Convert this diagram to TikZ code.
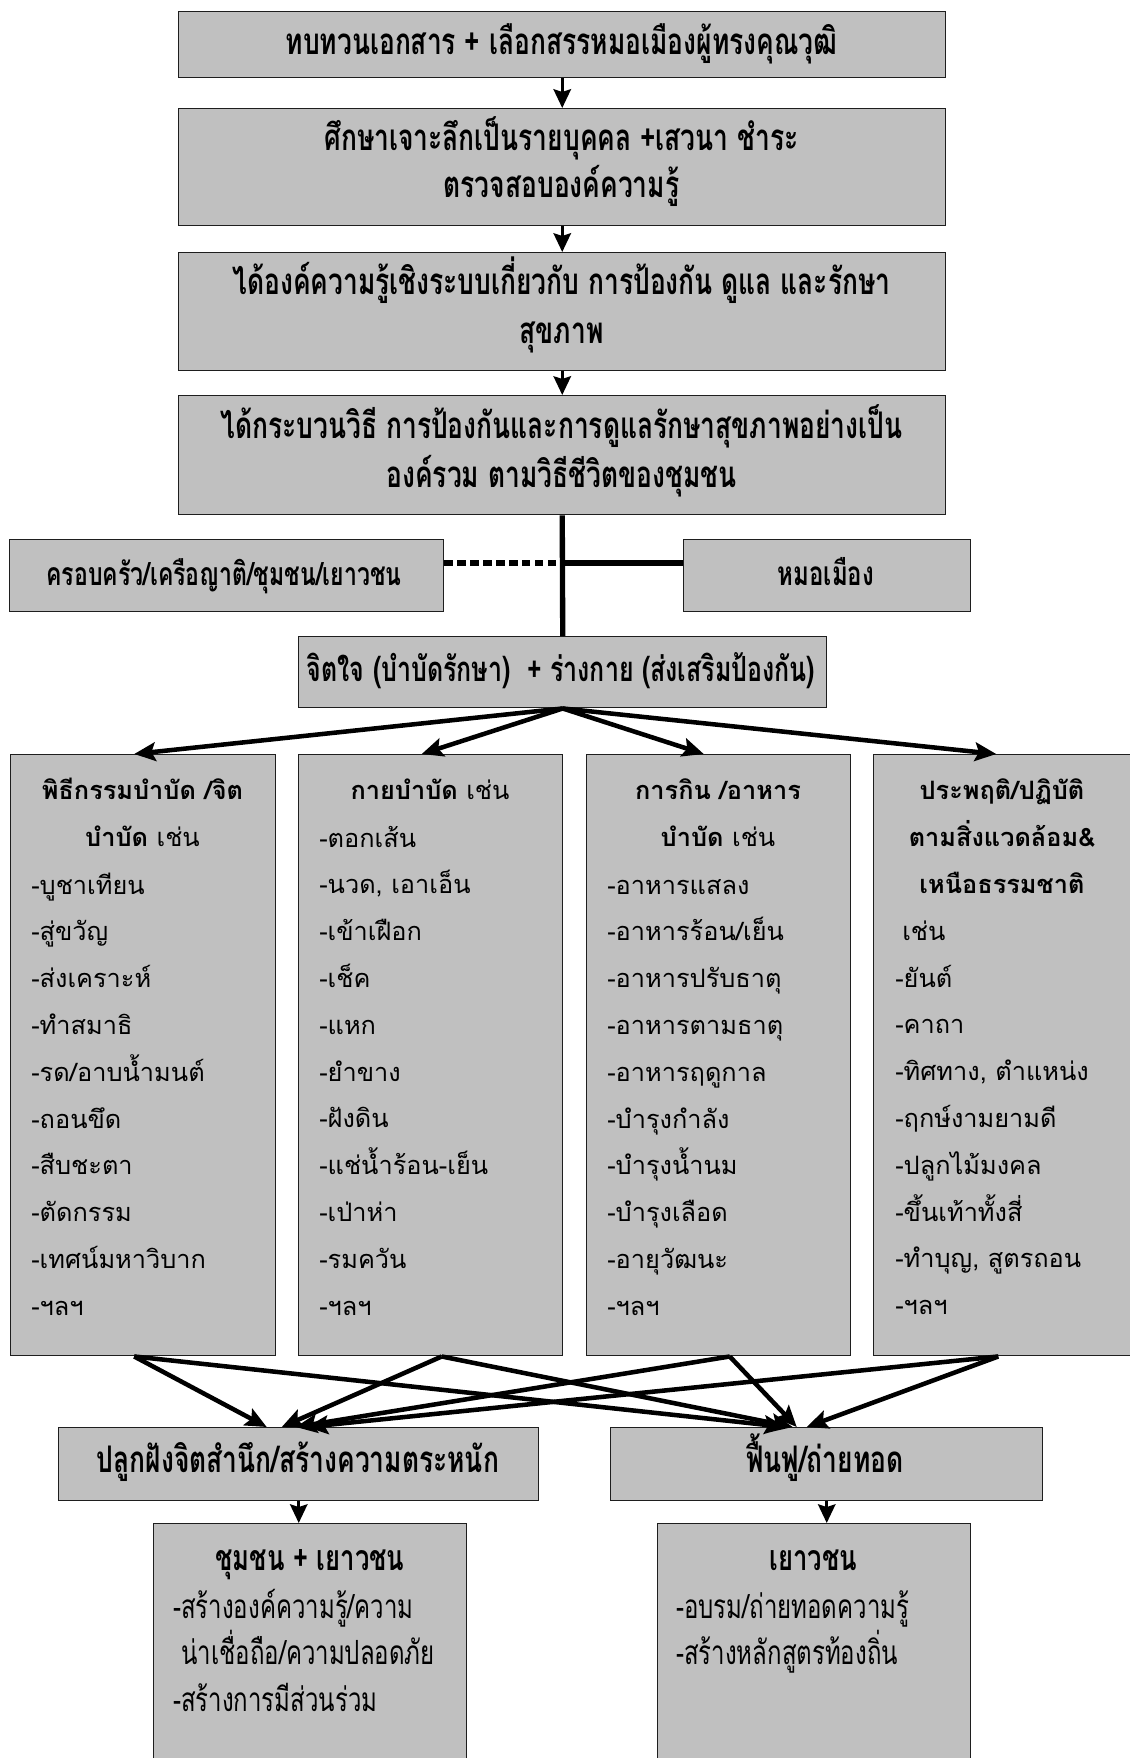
\documentclass[tikz,border=0pt]{standalone}
\usepackage{fontspec}
\usetikzlibrary{arrows.meta,calc}
\newfontfamily\thc[Script=Thai,FakeStretch=0.72]{Loma}
\newfontfamily\thr[Script=Thai]{Loma}
\definecolor{boxgray}{RGB}{192,192,192}
\definecolor{edgecol}{RGB}{30,30,30}
\newcommand\mkbox[5]{\node[box, minimum width=#4*0.75pt, minimum height=#5*0.75pt] (#1) at (#2,#3) {};}
\begin{document}
\begin{tikzpicture}[x=0.75pt,y=-0.75pt,
  box/.style={draw=edgecol, line width=1.1pt, fill=boxgray, inner sep=0pt, anchor=north west},
  ttxt/.style={font=\thc\bfseries\fontsize{27.5pt}{30pt}\selectfont, anchor=base, inner sep=0pt},
  stxt/.style={font=\thc\bfseries\fontsize{24pt}{28pt}\selectfont, anchor=base, inner sep=0pt},
  ctxtL/.style={font=\thc\fontsize{25pt}{28pt}\selectfont, anchor=base west, inner sep=0pt},
  head/.style={font=\thr\bfseries\fontsize{19pt}{23pt}\selectfont, anchor=base, inner sep=0pt},
  item/.style={font=\thr\fontsize{19pt}{23pt}\selectfont, anchor=base west, inner sep=0pt},
  arr/.style={line width=3.4pt, -{Stealth[length=16pt,width=14pt,inset=3pt]}},
  tarr/.style={line width=2.4pt, -{Stealth[length=14pt,width=13pt,inset=2pt]}},
  thickline/.style={line width=4pt},
]
\useasboundingbox (0,0) rectangle (1129,1758);
% boxes
\mkbox{b1}{178}{11}{767}{66}
\mkbox{b2}{178}{108}{767}{117}
\mkbox{b3}{178}{252}{767}{118}
\mkbox{b4}{178}{395}{767}{119}
\mkbox{L}{9}{539}{434}{72}
\mkbox{R}{683}{539}{287}{72}
\mkbox{b5}{298}{636}{528}{71}
\mkbox{c1}{10}{754}{265}{601}
\mkbox{c2}{298}{754}{264}{601}
\mkbox{c3}{586}{754}{264}{601}
\mkbox{c4}{873}{754}{267}{601}
\mkbox{p1}{58}{1427}{480}{73}
\mkbox{p2}{610}{1427}{432}{73}
\mkbox{q1}{153}{1523}{313}{247}
\mkbox{q2}{657}{1523}{313}{247}

% top texts
\node[ttxt] (t1) at (561.5,55) {ทบทวนเอกสาร + เลือกสรรหมอเมืองผู้ทรงคุณวุฒิ};
\node[ttxt] (t2a) at (561.5,151) {ศึกษาเจาะลึกเป็นรายบุคคล +เสวนา ชำระ};
\node[ttxt] (t2b) at (561.5,198) {ตรวจสอบองค์ความรู้};
\node[ttxt] (t3a) at (561.5,295) {ได้องค์ความรู้เชิงระบบเกี่ยวกับ การป้องกัน ดูแล และรักษา};
\node[ttxt] (t3b) at (561.5,344) {สุขภาพ};
\node[ttxt] (t4a) at (561.5,438) {ได้กระบวนวิธี การป้องกันและการดูแลรักษาสุขภาพอย่างเป็น};
\node[ttxt] (t4b) at (561.5,487) {องค์รวม ตามวิธีชีวิตของชุมชน};
\node[stxt] (tL) at (224,585) {ครอบครัว/เครือญาติ/ชุมชน/เยาวชน};
\node[stxt, font=\thc\bfseries\fontsize{25pt}{28pt}\selectfont] (tR) at (826,585) {หมอเมือง};
\node[ttxt, font=\thc\bfseries\fontsize{26pt}{28pt}\selectfont] (t5) at (561,681) {จิตใจ (บำบัดรักษา)~~+ ร่างกาย (ส่งเสริมป้องกัน)};

% column 1
\node[head] (c1h1) at (142.5,799) {พิธีกรรมบำบัด /จิต};
\node[head] (c1h2) at (142.5,846) {บำบัด \mdseries เช่น};
\foreach \t [count=\i] in {-บูชาเทียน,-สู่ขวัญ,-ส่งเคราะห์,-ทำสมาธิ,-รด/อาบน้ำมนต์,-ถอนขึด,-สืบชะตา,-ตัดกรรม,-เทศน์มหาวิบาก,-ฯลฯ}
  \node[item] (c1i\i) at (31,{894+(\i-1)*46.8}) {\t};
% column 2
\node[head] (c2h1) at (430,799) {กายบำบัด \mdseries เช่น};
\foreach \t [count=\i] in {-ตอกเส้น,{-นวด, เอาเอ็น},-เข้าเฝือก,-เช็ค,-แหก,-ยำขาง,-ฝังดิน,-แช่น้ำร้อน-เย็น,-เป่าห่า,-รมควัน,-ฯลฯ}
  \node[item] (c2i\i) at (319,{847+(\i-1)*46.8}) {\t};
% column 3
\node[head] (c3h1) at (718,799) {การกิน /อาหาร};
\node[head] (c3h2) at (718,846) {บำบัด \mdseries เช่น};
\foreach \t [count=\i] in {-อาหารแสลง,-อาหารร้อน/เย็น,-อาหารปรับธาตุ,-อาหารตามธาตุ,-อาหารฤดูกาล,-บำรุงกำลัง,-บำรุงน้ำนม,-บำรุงเลือด,-อายุวัฒนะ,-ฯลฯ}
  \node[item] (c3i\i) at (607,{894+(\i-1)*46.8}) {\t};
% column 4
\node[head] (c4h1) at (1002,799) {ประพฤติ/ปฏิบัติ};
\node[head] (c4h2) at (1002,846) {ตามสิ่งแวดล้อม\&};
\node[head] (c4h3) at (1002,893) {เหนือธรรมชาติ};
\node[item] (c4h4) at (902,940) {เช่น};
\foreach \t [count=\i] in {-ยันต์,-คาถา,{-ทิศทาง, ตำแหน่ง},-ฤกษ์งามยามดี,-ปลูกไม้มงคล,-ขึ้นเท้าทั้งสี่,{-ทำบุญ, สูตรถอน},-ฯลฯ}
  \node[item] (c4i\i) at (895,{987+(\i-1)*46.8}) {\t};

% bottom texts
\node[ttxt] (tp1) at (298,1472) {ปลูกฝังจิตสำนึก/สร้างความตระหนัก};
\node[ttxt] (tp2) at (825,1472) {ฟื้นฟู/ถ่ายทอด};
\node[ttxt, font=\thc\bfseries\fontsize{26.7pt}{28pt}\selectfont] (tq1) at (310,1570) {ชุมชน + เยาวชน};
\node[ctxtL] (tq1a) at (173,1618) {-สร้างองค์ความรู้/ความ};
\node[ctxtL] (tq1b) at (181,1664) {น่าเชื่อถือ/ความปลอดภัย};
\node[ctxtL] (tq1c) at (173,1711) {-สร้างการมีส่วนร่วม};
\node[ttxt, font=\thc\bfseries\fontsize{26.7pt}{28pt}\selectfont] (tq2) at (813.5,1570) {เยาวชน};
\node[ctxtL] (tq2a) at (676,1618) {-อบรม/ถ่ายทอดความรู้};
\node[ctxtL] (tq2b) at (676,1664) {-สร้างหลักสูตรท้องถิ่น};

% connectors top
\draw[tarr] (b1.south) -- (b2.north);
\draw[tarr] (b2.south) -- (b3.north);
\draw[tarr] (b3.south) -- (b4.north);
\coordinate (mid) at (563,563);
\draw[thickline] (b4.south) -- (b5.north);
\draw[line width=5pt, dash pattern=on 6.3pt off 3.4pt] (L.east |- mid) -- ($(mid)+(-6,0)$);
\draw[line width=4.5pt] (mid) -- (mid -| R.west);

% fan out
\draw[arr] (b5.south) -- ($(c1.north)+(-9,0)$);
\draw[arr] (b5.south) -- ($(c2.north)+(-9,0)$);
\draw[arr] (b5.south) -- ($(c3.north)+(-15,0)$);
\draw[arr] (b5.south) -- ($(c4.north)+(-11,0)$);

% crossing arrows
\coordinate (s1) at ($(c1.south)+(-9,0)$);
\coordinate (s2) at ($(c2.south)+(11,0)$);
\coordinate (s3) at ($(c3.south)+(11,0)$);
\coordinate (s4) at ($(c4.south)+(-9,0)$);
\draw[arr] (s1) -- ($(p1.north)+(-32,0)$);
\draw[arr] (s2) -- ($(p1.north)+(-17,0)$);
\draw[arr] (s3) -- ($(p1.north)+(-3,0)$);
\draw[arr] (s4) -- ($(p1.north)+(8,0)$);
\draw[arr] (s1) -- ($(p2.north)+(-41,0)$);
\draw[arr] (s2) -- ($(p2.north)+(-34,0)$);
\draw[arr] (s3) -- ($(p2.north)+(-30,0)$);
\draw[arr] (s4) -- ($(p2.north)+(-20,0)$);

% bottom arrows
\draw[tarr] (p1.south) -- (p1.south |- q1.north);
\draw[tarr] (p2.south) -- (p2.south |- q2.north);
\end{tikzpicture}
\end{document}
